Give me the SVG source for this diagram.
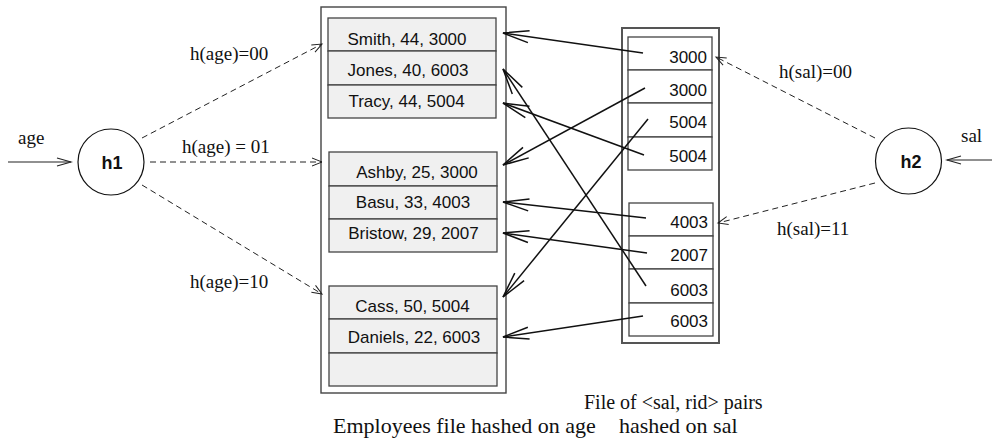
<svg xmlns="http://www.w3.org/2000/svg" width="992" height="439" viewBox="0 0 992 439">
<style>
.serif{font-family:"Liberation Serif","Times New Roman",serif;fill:#111}
.sans{font-family:"Liberation Sans",Arial,sans-serif;fill:#111}
.rec{font-size:17px;text-anchor:middle}
.num{font-size:17px;text-anchor:end}
.lbl{font-size:19px}
.cap{font-size:22px}
.cap2{font-size:20px}
.hash{font-size:18px;font-weight:bold;text-anchor:middle}
.outer{fill:#fff;stroke:#444;stroke-width:1.4}
.row{fill:#f0f0f0;stroke:#444;stroke-width:1.3}
.srow{fill:#fff;stroke:#444;stroke-width:1.3}
.circ{fill:#fff;stroke:#111;stroke-width:1.2}
.ptr{fill:none;stroke:#111;stroke-width:1.5;marker-end:url(#big)}
.dash{fill:none;stroke:#222;stroke-width:1;stroke-dasharray:6 4;marker-end:url(#small)}
.inp{fill:none;stroke:#222;stroke-width:1.1;marker-end:url(#mid)}
</style>
<defs>
<marker id="big" markerUnits="userSpaceOnUse" viewBox="-30 -10 32 20" markerWidth="32" markerHeight="20" refX="0" refY="0" orient="auto">
<path d="M-26,-6 L0,0 L-26,6" fill="none" stroke="#111" stroke-width="1.5"/>
</marker>
<marker id="small" markerUnits="userSpaceOnUse" viewBox="-12 -6 14 12" markerWidth="14" markerHeight="12" refX="0" refY="0" orient="auto">
<path d="M-10,-4 L0,0 L-10,4" fill="none" stroke="#222" stroke-width="1"/>
</marker>
<marker id="mid" markerUnits="userSpaceOnUse" viewBox="-16 -6 18 12" markerWidth="18" markerHeight="12" refX="0" refY="0" orient="auto">
<path d="M-14,-4 L0,0 L-14,4" fill="none" stroke="#222" stroke-width="1.1"/>
</marker>
</defs>

<g id="employees">
<rect class="outer" x="321" y="7" width="185" height="386"/>
<rect class="row" x="328" y="18" width="168" height="33"/>
<rect class="row" x="328" y="51" width="168" height="34"/>
<rect class="row" x="328" y="85" width="168" height="33"/>
<text class="sans rec" x="407" y="45">Smith, 44, 3000</text>
<text class="sans rec" x="408" y="76">Jones, 40, 6003</text>
<text class="sans rec" x="406.5" y="107">Tracy, 44, 5004</text>
<rect class="row" x="329" y="152" width="168" height="34"/>
<rect class="row" x="329" y="186" width="168" height="33"/>
<rect class="row" x="329" y="219" width="168" height="33"/>
<text class="sans rec" x="417" y="178">Ashby, 25, 3000</text>
<text class="sans rec" x="413" y="208">Basu, 33, 4003</text>
<text class="sans rec" x="413.5" y="239">Bristow, 29, 2007</text>
<rect class="row" x="329" y="286" width="168" height="33"/>
<rect class="row" x="329" y="319" width="168" height="34"/>
<rect class="row" x="329" y="353" width="168" height="33"/>
<text class="sans rec" x="412.5" y="312">Cass, 50, 5004</text>
<text class="sans rec" x="414" y="343">Daniels, 22, 6003</text>
</g>

<g id="salfile">
<rect class="outer" x="622" y="28" width="97" height="315" style="stroke-width:2;stroke:#555"/>
<rect class="srow" x="628" y="37" width="84" height="33"/>
<rect class="srow" x="628" y="70" width="84" height="33"/>
<rect class="srow" x="628" y="103" width="84" height="34"/>
<rect class="srow" x="628" y="137" width="84" height="33"/>
<text class="sans num" x="707" y="63">3000</text>
<text class="sans num" x="707" y="96">3000</text>
<text class="sans num" x="707" y="128">5004</text>
<text class="sans num" x="707" y="162">5004</text>
<rect class="srow" x="629" y="203" width="84" height="33"/>
<rect class="srow" x="629" y="236" width="84" height="33"/>
<rect class="srow" x="629" y="269" width="84" height="34"/>
<rect class="srow" x="629" y="303" width="84" height="33"/>
<text class="sans num" x="708" y="228">4003</text>
<text class="sans num" x="708" y="261">2007</text>
<text class="sans num" x="708" y="296">6003</text>
<text class="sans num" x="708" y="327">6003</text>
</g>

<g id="h1">
<circle class="circ" cx="111" cy="162" r="33"/>
<text class="sans hash" x="112" y="169">h1</text>
</g>
<g id="h2">
<circle class="circ" cx="908.5" cy="161" r="33"/>
<text class="sans hash" x="911" y="168">h2</text>
</g>

<g id="connectors">
<line class="inp" x1="8" y1="162" x2="71" y2="162"/>
<line class="inp" x1="992" y1="160" x2="947" y2="160"/>
<line class="dash" x1="142" y1="138" x2="322" y2="44"/>
<line class="dash" x1="150" y1="162" x2="322" y2="162"/>
<line class="dash" x1="142" y1="185" x2="322" y2="294"/>
<line class="dash" x1="875" y1="138" x2="716" y2="57"/>
<line class="dash" x1="875" y1="183" x2="718" y2="223"/>
<line class="ptr" x1="643" y1="53" x2="503" y2="33"/>
<line class="ptr" x1="645" y1="88" x2="503" y2="165"/>
<line class="ptr" x1="648" y1="119" x2="503" y2="297"/>
<line class="ptr" x1="644" y1="155" x2="503" y2="103"/>
<line class="ptr" x1="646" y1="218" x2="503" y2="202"/>
<line class="ptr" x1="647" y1="253" x2="503" y2="233"/>
<line class="ptr" x1="646" y1="286" x2="503" y2="69"/>
<line class="ptr" x1="643" y1="316" x2="503" y2="337"/>
</g>

<g id="labels">
<text class="serif lbl" x="18" y="144">age</text>
<text class="serif lbl" x="961" y="142">sal</text>
<text class="serif lbl" x="190" y="60">h(age)=00</text>
<text class="serif lbl" x="182" y="153">h(age) = 01</text>
<text class="serif lbl" x="190" y="288">h(age)=10</text>
<text class="serif lbl" x="779" y="78">h(sal)=00</text>
<text class="serif lbl" x="777" y="235">h(sal)=11</text>
<text class="serif cap2" x="584" y="409">File of &lt;sal, rid&gt; pairs</text>
<text class="serif cap" x="333" y="433">Employees file hashed on age</text>
<text class="serif cap" x="619" y="433">hashed on sal</text>
</g>
</svg>
